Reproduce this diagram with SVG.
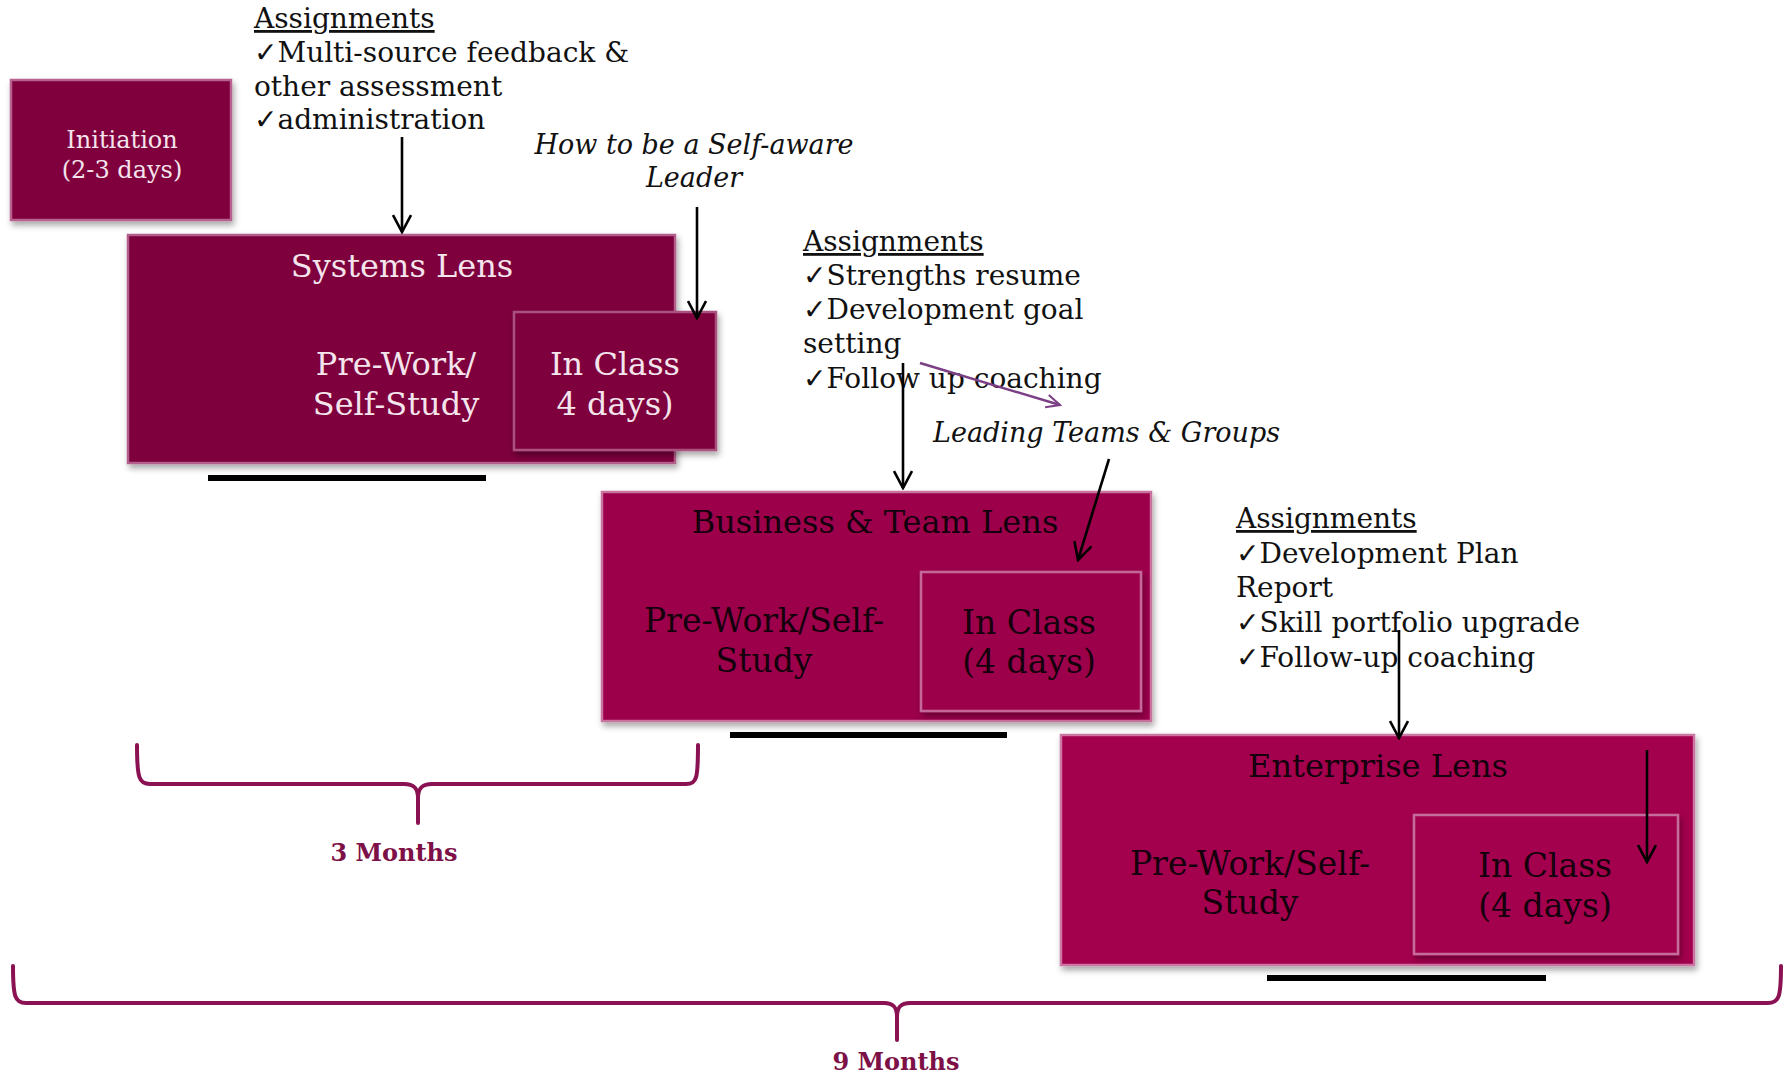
<svg xmlns="http://www.w3.org/2000/svg" width="1787" height="1077" viewBox="0 0 1787 1077">
<defs>
<filter id="sh" x="-10%" y="-10%" width="125%" height="130%">
<feDropShadow dx="2" dy="4" stdDeviation="3" flood-color="#000" flood-opacity="0.35"/>
</filter>
<marker id="ah" viewBox="0 0 20 20" markerUnits="userSpaceOnUse" markerWidth="20" markerHeight="20" refX="18" refY="10" orient="auto">
<path d="M1,1 L18,10 L1,19" fill="none" stroke="#000" stroke-width="2.6"/>
</marker>
<marker id="ahp" viewBox="0 0 20 20" markerUnits="userSpaceOnUse" markerWidth="16" markerHeight="16" refX="18" refY="10" orient="auto">
<path d="M1,2 L18,10 L1,18" fill="none" stroke="#7b3f86" stroke-width="2.6"/>
</marker>
</defs>
<style>
text{font-family:"DejaVu Serif","DejaVu Sans",serif}
.ann{font-size:28px;fill:#111}
.it{font-size:27px;fill:#111;font-style:italic}
.u{text-decoration:underline}
.lt{fill:#f4e4ec}
.dk{fill:#14000c}
.big{font-size:32px;text-anchor:middle}
.big2{font-size:33px;text-anchor:middle}
.br{fill:none;stroke:#8a1252;stroke-width:4;stroke-linecap:round}
.mo{font-size:24px;font-weight:bold;fill:#7d1046;text-anchor:middle}
.bar{fill:#000}
.ar{stroke:#000;stroke-width:2.6;fill:none;marker-end:url(#ah)}
</style>

<g id="initiation">
<rect x="11" y="80" width="220" height="140" fill="#80003d" stroke="#b8648f" stroke-width="2.5" filter="url(#sh)"/>
<text x="122" y="148" font-size="24" text-anchor="middle" class="lt">Initiation</text>
<text x="122" y="178" font-size="24" text-anchor="middle" class="lt">(2-3 days)</text>
</g>

<g id="systems-lens">
<rect x="128" y="235" width="547" height="228" fill="#7e003d" stroke="#b35f8b" stroke-width="2.5" filter="url(#sh)"/>
<text x="402" y="277" class="big lt">Systems Lens</text>
<text x="396" y="375" class="big lt">Pre-Work/</text>
<text x="396" y="415" class="big lt">Self-Study</text>
</g>
<g id="systems-inclass">
<rect x="514" y="312" width="202" height="138" fill="#7e003d" stroke="#a9517f" stroke-width="2.5" filter="url(#sh)"/>
<text x="615" y="375" class="big lt">In Class</text>
<text x="615" y="415" class="big lt">4 days)</text>
</g>
<rect class="bar" x="208" y="475" width="278" height="6"/>

<g id="business-lens">
<rect x="602" y="492" width="549" height="229" fill="#9c004b" stroke="#c9739f" stroke-width="2.5" filter="url(#sh)"/>
<text x="875" y="533" class="big dk">Business &amp; Team Lens</text>
<text x="764" y="632" class="big2 dk">Pre-Work/Self-</text>
<text x="764" y="672" class="big2 dk">Study</text>
</g>
<g id="business-inclass">
<rect x="921" y="572" width="220" height="139" fill="#9c004b" stroke="#c4689a" stroke-width="2.5" filter="url(#sh)"/>
<text x="1029" y="634" class="big2 dk">In Class</text>
<text x="1029" y="673" class="big2 dk">(4 days)</text>
</g>
<rect class="bar" x="730" y="732" width="277" height="6"/>

<g id="enterprise-lens">
<rect x="1061" y="735" width="633" height="230" fill="#a3004e" stroke="#cc76a2" stroke-width="2.5" filter="url(#sh)"/>
<text x="1378" y="777" class="big dk">Enterprise Lens</text>
<text x="1250" y="875" class="big2 dk">Pre-Work/Self-</text>
<text x="1250" y="914" class="big2 dk">Study</text>
</g>
<g id="enterprise-inclass">
<rect x="1414" y="815" width="264" height="139" fill="#a3004e" stroke="#c66c9c" stroke-width="2.5" filter="url(#sh)"/>
<text x="1545" y="877" class="big2 dk">In Class</text>
<text x="1545" y="917" class="big2 dk">(4 days)</text>
</g>
<rect class="bar" x="1267" y="975" width="279" height="6"/>

<g id="assign1">
<text x="254" y="28" class="ann u">Assignments</text>
<text x="254" y="62" class="ann">✓Multi-source feedback &amp;</text>
<text x="254" y="96" class="ann">other assessment</text>
<text x="254" y="129" class="ann">✓administration</text>
</g>
<g id="label-selfaware">
<text x="694" y="154" class="it" text-anchor="middle">How to be a Self-aware</text>
<text x="694" y="187" class="it" text-anchor="middle">Leader</text>
</g>
<g id="assign2">
<text x="803" y="251" class="ann u">Assignments</text>
<text x="803" y="285" class="ann">✓Strengths resume</text>
<text x="803" y="319" class="ann">✓Development goal</text>
<text x="803" y="353" class="ann">setting</text>
<text x="803" y="388" class="ann">✓Follow up coaching</text>
</g>
<g id="label-teams">
<text x="933" y="442" class="it">Leading Teams &amp; Groups</text>
</g>
<g id="assign3">
<text x="1236" y="528" class="ann u">Assignments</text>
<text x="1236" y="563" class="ann">✓Development Plan</text>
<text x="1236" y="597" class="ann">Report</text>
<text x="1236" y="632" class="ann">✓Skill portfolio upgrade</text>
<text x="1236" y="667" class="ann">✓Follow-up coaching</text>
</g>

<g id="connectors">
<path class="ar" d="M402,137 L402,232"/>
<path class="ar" d="M697,207 L697,318"/>
<path class="ar" d="M903,363 L903,488"/>
<path d="M920,363 L1060,405" stroke="#7b3f86" stroke-width="2.4" fill="none" marker-end="url(#ahp)"/>
<path class="ar" d="M1109,459 L1078,560"/>
<path class="ar" d="M1399,630 L1399,738"/>
<path class="ar" d="M1647,750 L1647,862"/>
</g>

<g id="brace-3months">
<path class="br" d="M137,745 C137,778 139,784 150,784 L404,784 C414,784 418,788 418,798 L418,823 M418,798 C418,788 422,784 432,784 L686,784 C697,784 698,778 698,745"/>
<text x="394" y="861" class="mo">3 Months</text>
</g>
<g id="brace-9months">
<path class="br" d="M13,966 C13,997 15,1003 26,1003 L884,1003 C893,1003 897,1007 897,1017 L897,1040 M897,1017 C897,1007 901,1003 910,1003 L1768,1003 C1779,1003 1781,997 1781,966"/>
<text x="896" y="1070" class="mo">9 Months</text>
</g>
</svg>
